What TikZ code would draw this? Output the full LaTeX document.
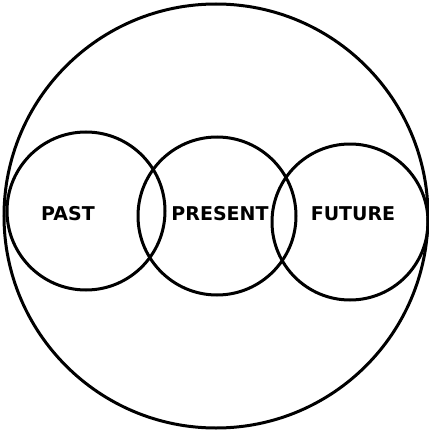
\documentclass[tikz,border=0pt]{standalone}
\usepackage{fontspec}
\setsansfont{DejaVu Sans}
\begin{document}
\begin{tikzpicture}[x=1pt, y=-1pt, line width=3pt]
    \tikzset{word/.style={font=\sffamily\bfseries\fontsize{19}{19}\selectfont, inner sep=0pt}}
    \useasboundingbox (0, 0) rectangle (428, 433);
    \draw (216, 216) circle[radius=212];
    \draw (86, 211) circle[radius=79];
    \draw (217, 216) circle[radius=79];
    \draw (350, 222) circle[radius=78];
    \node[word] (past) at (68, 214) {PAST};
    \node[word] (present) at (220, 214) {PRESENT};
    \node[word] (future) at (353, 214) {FUTURE};
  \end{tikzpicture}
\end{document}
